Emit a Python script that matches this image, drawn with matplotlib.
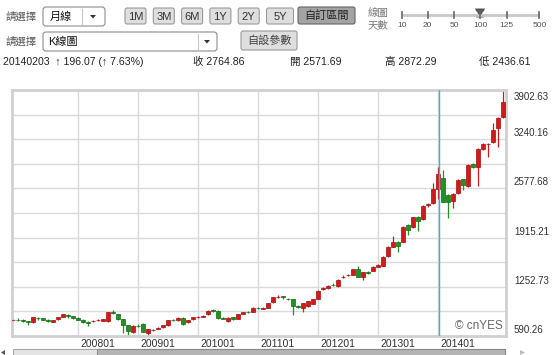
import numpy as np
import pandas as pd
import matplotlib
matplotlib.use('Agg')
import matplotlib.pyplot as plt
from matplotlib.patches import FancyBboxPatch, Rectangle, Polygon

plt.rcParams['font.family'] = ['Liberation Sans', 'Noto Sans CJK TC', 'DejaVu Sans']

# monthly candles, 2007-01 .. 2015-03
months = pd.period_range('2007-01', periods=99, freq='M')

opens = [800, 808, 803, 790, 775, 838, 826, 812, 785, 815, 850, 878, 855,
         835, 808, 782, 790, 800, 798, 795, 912, 885, 820, 738, 640, 728,
         752, 630, 668, 690, 708, 738, 810, 806, 830, 778, 818, 846, 848,
         880, 935, 928, 830, 790, 840, 825, 890, 915, 920, 968, 960, 970,
         1048, 1115, 1125, 1095, 1085, 990, 965, 990, 1025, 1095, 1225, 1232,
         1280, 1265, 1380, 1405, 1412, 1490, 1384, 1450, 1468, 1525, 1535, 1668,
         1795, 1862, 1860, 2085, 2055, 2198, 2160, 2355, 2378, 2571.69, 2718, 2488,
         2410, 2512, 2700, 2610, 2906, 2862, 3108, 3170, 3200, 3391, 3545]
highs = [830, 828, 820, 792, 848, 850, 835, 818, 810, 852, 890, 885, 862,
         842, 815, 786, 812, 818, 825, 920, 935, 892, 825, 745, 735, 750,
         760, 690, 690, 710, 745, 812, 822, 845, 840, 812, 852, 865, 870,
         938, 955, 935, 840, 840, 848, 892, 918, 925, 975, 985, 985, 1040,
         1118, 1145, 1128, 1105, 1092, 1005, 1038, 1062, 1092, 1205, 1250, 1275,
         1300, 1355, 1405, 1430, 1498, 1535, 1455, 1462, 1530, 1555, 1668, 1805,
         1935, 1870, 2070, 2095, 2198, 2205, 2348, 2380, 2650, 2872.29, 2825, 2500,
         2510, 2700, 2710, 2900, 2920, 3115, 3190, 3185, 3458, 3535, 3902.63]
lows = [785, 790, 780, 745, 765, 812, 800, 780, 775, 808, 842, 835, 825,
        800, 770, 725, 782, 792, 792, 785, 890, 812, 630, 590.26, 630, 705,
        640, 610, 660, 680, 700, 730, 790, 798, 745, 770, 810, 835, 842,
        872, 920, 820, 815, 785, 812, 818, 882, 900, 912, 950, 952, 962,
        1040, 1105, 1085, 1070, 873, 965, 915, 980, 1015, 1088, 1215, 1225,
        1265, 1255, 1370, 1395, 1405, 1378, 1350, 1430, 1460, 1518, 1528, 1660,
        1785, 1725, 1850, 1950, 2045, 2005, 2150, 2330, 2370, 2436.61, 2390, 2180,
        2315, 2505, 2560, 2600, 2850, 2612, 3100, 3005, 3190, 3140, 3520]
closes = [808, 803, 795, 775, 840, 826, 812, 795, 800, 845, 880, 862, 835,
          808, 780, 772, 798, 808, 818, 912, 900, 820, 740, 662, 725, 720,
          650, 685, 675, 698, 738, 806, 800, 838, 752, 806, 846, 848, 862,
          930, 926, 830, 825, 833, 820, 885, 912, 910, 967, 962, 970, 1030,
          1110, 1122, 1115, 1088, 995, 982, 1030, 1055, 1085, 1195, 1235, 1262,
          1275, 1344, 1390, 1412, 1490, 1384, 1447, 1445, 1522, 1548, 1660, 1795,
          1860, 1805, 2062, 2018, 2190, 2143, 2340, 2368, 2568.79, 2764.86, 2398, 2398,
          2502, 2690, 2625, 2892, 2862, 3105, 3175, 3176, 3364, 3525, 3745]

year_labels = ['200801', '200901', '201001', '201101', '201201', '201301', '201401']
hover_month = '2014-02'
hover_date = '20140203'

period_buttons = ['1M', '3M', '6M', '1Y', '2Y', '5Y']
slider_days = ['10', '20', '50', '100', '125', '500']

o = np.array(opens); h = np.array(highs); l = np.array(lows); c = np.array(closes)
x = np.arange(len(months))
up = c >= o

RED, RED_E = '#d31a1a', '#a80c0c'
GRN, GRN_E = '#219121', '#0d6b0d'

fig = plt.figure(figsize=(5.53, 3.55), dpi=100)

# page furniture drawn in pixel units
ui = fig.add_axes([0, 0, 1, 1])
ui.set_xlim(0, 553)
ui.set_ylim(355, 0)
ui.axis('off')
ui.set_zorder(0)


def box(x0, y0, x1, y1, fc, ec, r=2.5, lw=0.8):
    ui.add_patch(FancyBboxPatch((x0, y0), x1 - x0, y1 - y0,
                                boxstyle=f'round,pad=0,rounding_size={r}',
                                fc=fc, ec=ec, lw=lw))


def arrow_down(xc, yc):
    ui.add_patch(Polygon([(xc - 3, yc - 1.5), (xc + 3, yc - 1.5), (xc, yc + 2)],
                         closed=True, fc='#333333', ec='none'))


# row 1
ui.text(5, 17, '請選擇', fontsize=7.5, color='#555555', va='center')
box(43, 7, 105, 26, 'white', '#8c8c8c', r=3)
ui.text(50, 16.5, '月線', fontsize=8, color='#111111', va='center')
ui.plot([82, 82], [9, 24], color='#c8c8c8', lw=0.8)
arrow_down(93, 16.5)

bx = 125
for lab in period_buttons:
    w = 21 if lab != '5Y' else 27
    box(bx, 8, bx + w, 24, '#dedede', '#9a9a9a', r=2)
    ui.text(bx + w / 2, 16.5, lab, fontsize=8, color='#333333', ha='center', va='center')
    bx += 28.3
box(298, 7, 355, 24, '#a3a3a3', '#666666', r=2)
ui.text(326.5, 16, '自訂區間', fontsize=8, color='#222222', ha='center', va='center')

ui.text(378, 13, '線圖', fontsize=7.5, color='#777777', ha='center', va='center')
ui.text(378, 25, '天數', fontsize=7.5, color='#777777', ha='center', va='center')
sx = [401.7, 427.7, 454, 480, 506.7, 539.3]
ui.plot([sx[0], sx[-1]], [15, 15], color='#c8c8c8', lw=2, solid_capstyle='butt')
for xx, lab in zip(sx, slider_days):
    ui.plot([xx, xx], [11.5, 18], color='#666666', lw=1.2)
    ui.text(xx, 25.5, lab, fontsize=6, color='#555555', ha='center', va='center')
k = slider_days.index('100')
t = sx[k]
ui.add_patch(Polygon([(t - 5, 8.5), (t + 5, 8.5), (t + 4, 11), (t + 2, 13), (t + 4, 17.5),
                      (t - 4, 17.5), (t - 2, 13), (t - 4, 11)],
                     closed=True, fc='#595959', ec='none'))

# row 2
ui.text(5, 42, '請選擇', fontsize=7.5, color='#555555', va='center')
box(43, 32, 217, 51, 'white', '#8c8c8c', r=3)
ui.text(48, 41.5, 'K線圖', fontsize=8, color='#111111', va='center')
ui.plot([198, 198], [34, 49], color='#c8c8c8', lw=0.8)
arrow_down(207, 41.5)
box(241, 31, 297, 50, '#dedede', '#9a9a9a', r=2)
ui.text(269, 40.5, '自設參數', fontsize=8, color='#444444', ha='center', va='center')

# row 3: data of the hovered candle
hi = months.get_loc(pd.Period(hover_month, 'M'))
chg = c[hi] - c[hi - 1]
pct = chg / c[hi - 1] * 100
info_y = 62
fs_info = 7.6
ui.text(3, info_y, f'{hover_date}  ↑ {chg:.2f} (↑ {pct:.2f}%)', fontsize=fs_info,
        color='#222222', va='center')
ui.text(193, info_y, f'收 {c[hi]:.2f}', fontsize=fs_info, color='#222222', va='center')
ui.text(290, info_y, f'開 {o[hi]:.2f}', fontsize=fs_info, color='#222222', va='center')
ui.text(385, info_y, f'高 {h[hi]:.2f}', fontsize=fs_info, color='#222222', va='center')
ui.text(479, info_y, f'低 {l[hi]:.2f}', fontsize=fs_info, color='#222222', va='center')

# scrollbar under chart
ui.add_patch(Rectangle((13, 349), 492, 7, fc='#e4e4e4', ec='#a8a8a8', lw=0.8))
ui.add_patch(Rectangle((97, 349), 408, 7, fc='#b4b4b4', ec='#8a8a8a', lw=0.8))
ui.add_patch(Polygon([(1, 352.5), (5, 350), (5, 355)], closed=True, fc='#555555', ec='none'))
ui.add_patch(Polygon([(525, 352.5), (520, 350), (520, 355)], closed=True, fc='#bbbbbb', ec='none'))

# candlestick chart
ax = fig.add_axes([12 / 553, 19 / 355, 494 / 553, 246 / 355])
ax.set_zorder(1)
lo, hi_v = l.min(), h.max()

ax.vlines(x, l, h, colors=np.where(up, RED, GRN), lw=0.9, zorder=2)
ax.bar(x, np.maximum(np.abs(c - o), 6), bottom=np.minimum(o, c), width=0.64,
       color=np.where(up, RED, GRN), edgecolor=np.where(up, RED_E, GRN_E),
       lw=0.5, zorder=3)

ax.set_xlim(-0.2, len(months) - 0.4)
ax.set_ylim(lo, hi_v)

tick_pos = [months.get_loc(pd.Period(s[:4] + '-' + s[4:], 'M')) + 1 for s in year_labels]
ax.set_xticks(tick_pos)
ax.set_yticks(np.linspace(lo, hi_v, 11))
ax.grid(True, color='#dadada', lw=1, zorder=0)
ax.tick_params(length=0, labelleft=False, labelbottom=False)
for s in ax.spines.values():
    s.set_color('#d0d0d0')
    s.set_linewidth(2)

ax.axvline(hi + 0.25, color='#36b4d6', lw=1, zorder=4)

for pos, lab in zip(tick_pos, year_labels):
    ax.annotate(lab, xy=(pos, 0), xycoords=('data', 'axes fraction'),
                xytext=(2, -3), textcoords='offset pixels', ha='left', va='top',
                fontsize=7.5, color='#333333', annotation_clip=False)

label_vals = np.linspace(lo, hi_v, 6)
for j, v in enumerate(label_vals):
    top = j == len(label_vals) - 1
    ax.annotate(f'{v:.2f}', xy=(1, v), xycoords=('axes fraction', 'data'),
                xytext=(8, -2 if top else 1), textcoords='offset pixels',
                ha='left', va='top' if top else 'bottom', fontsize=7,
                color='#333333', annotation_clip=False)

ax.text(0.994, 0.016, '© cnYES', transform=ax.transAxes, ha='right', va='bottom',
        fontsize=8.5, color='#666666', zorder=5)

fig.savefig('out.png', dpi=100)
